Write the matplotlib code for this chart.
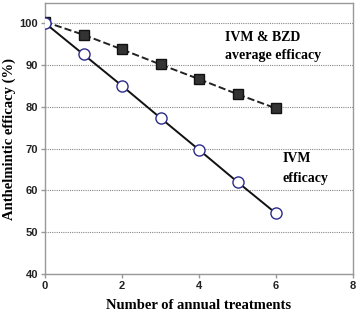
import matplotlib.pyplot as plt

treatments = [0, 1, 2, 3, 4, 5, 6]
ivm_efficacy = [100, 92.5, 85, 77.3, 69.7, 62, 54.5]
avg_efficacy = [100.3, 97.2, 93.7, 90.1, 86.6, 83, 79.6]

serif = ['Liberation Serif', 'DejaVu Serif']
sans = ['Liberation Sans', 'DejaVu Sans']

fig = plt.figure(figsize=(3.58, 3.14), dpi=100)
ax = fig.add_axes([45/358, 40/314, 308/358, 271/314])

ax.plot(treatments, avg_efficacy, '--', color='#222222', lw=1.4,
        marker='s', ms=6.5, mfc='#333333', mec='#111111', zorder=3)
ax.plot(treatments, ivm_efficacy, '-', color='#111111', lw=1.4,
        marker='o', ms=8, mfc='white', mec='#2b2b8a', mew=1, zorder=4)

ax.set_xlim(0, 8)
ax.set_ylim(40, 104.8)
ax.set_xticks([0, 2, 4, 6, 8])
ax.set_yticks([40, 50, 60, 70, 80, 90, 100])
ax.yaxis.grid(True, color='#888888', lw=0.8, ls=(0, (1, 1)))
ax.set_axisbelow(True)
for s in ax.spines.values():
    s.set_color('#999999')
    s.set_linewidth(1)
ax.tick_params(length=3, width=1, color='#999999', labelsize=8, pad=2)
for lab in ax.get_xticklabels() + ax.get_yticklabels():
    lab.set_family(sans)
    lab.set_fontweight('bold')
    lab.set_color('#222222')

ax.set_xlabel('Number of annual treatments', family=serif, fontweight='bold',
              fontsize=10.5, labelpad=6)
ax.set_ylabel('Anthelmintic efficacy (%)', family=serif, fontweight='bold',
              fontsize=10.5)
ax.yaxis.set_label_coords(-0.093, 0.5)

ax.text(4.68, 96.6, 'IVM & BZD', family=serif, fontweight='bold', fontsize=10,
        va='center', ha='left')
ax.text(4.68, 92.3, 'average efficacy', family=serif, fontweight='bold', fontsize=10,
        va='center', ha='left')
ax.text(6.16, 67.7, 'IVM', family=serif, fontweight='bold', fontsize=10,
        va='center', ha='left')
ax.text(6.16, 62.9, 'efficacy', family=serif, fontweight='bold', fontsize=10,
        va='center', ha='left')

fig.savefig('out.png', dpi=100)
